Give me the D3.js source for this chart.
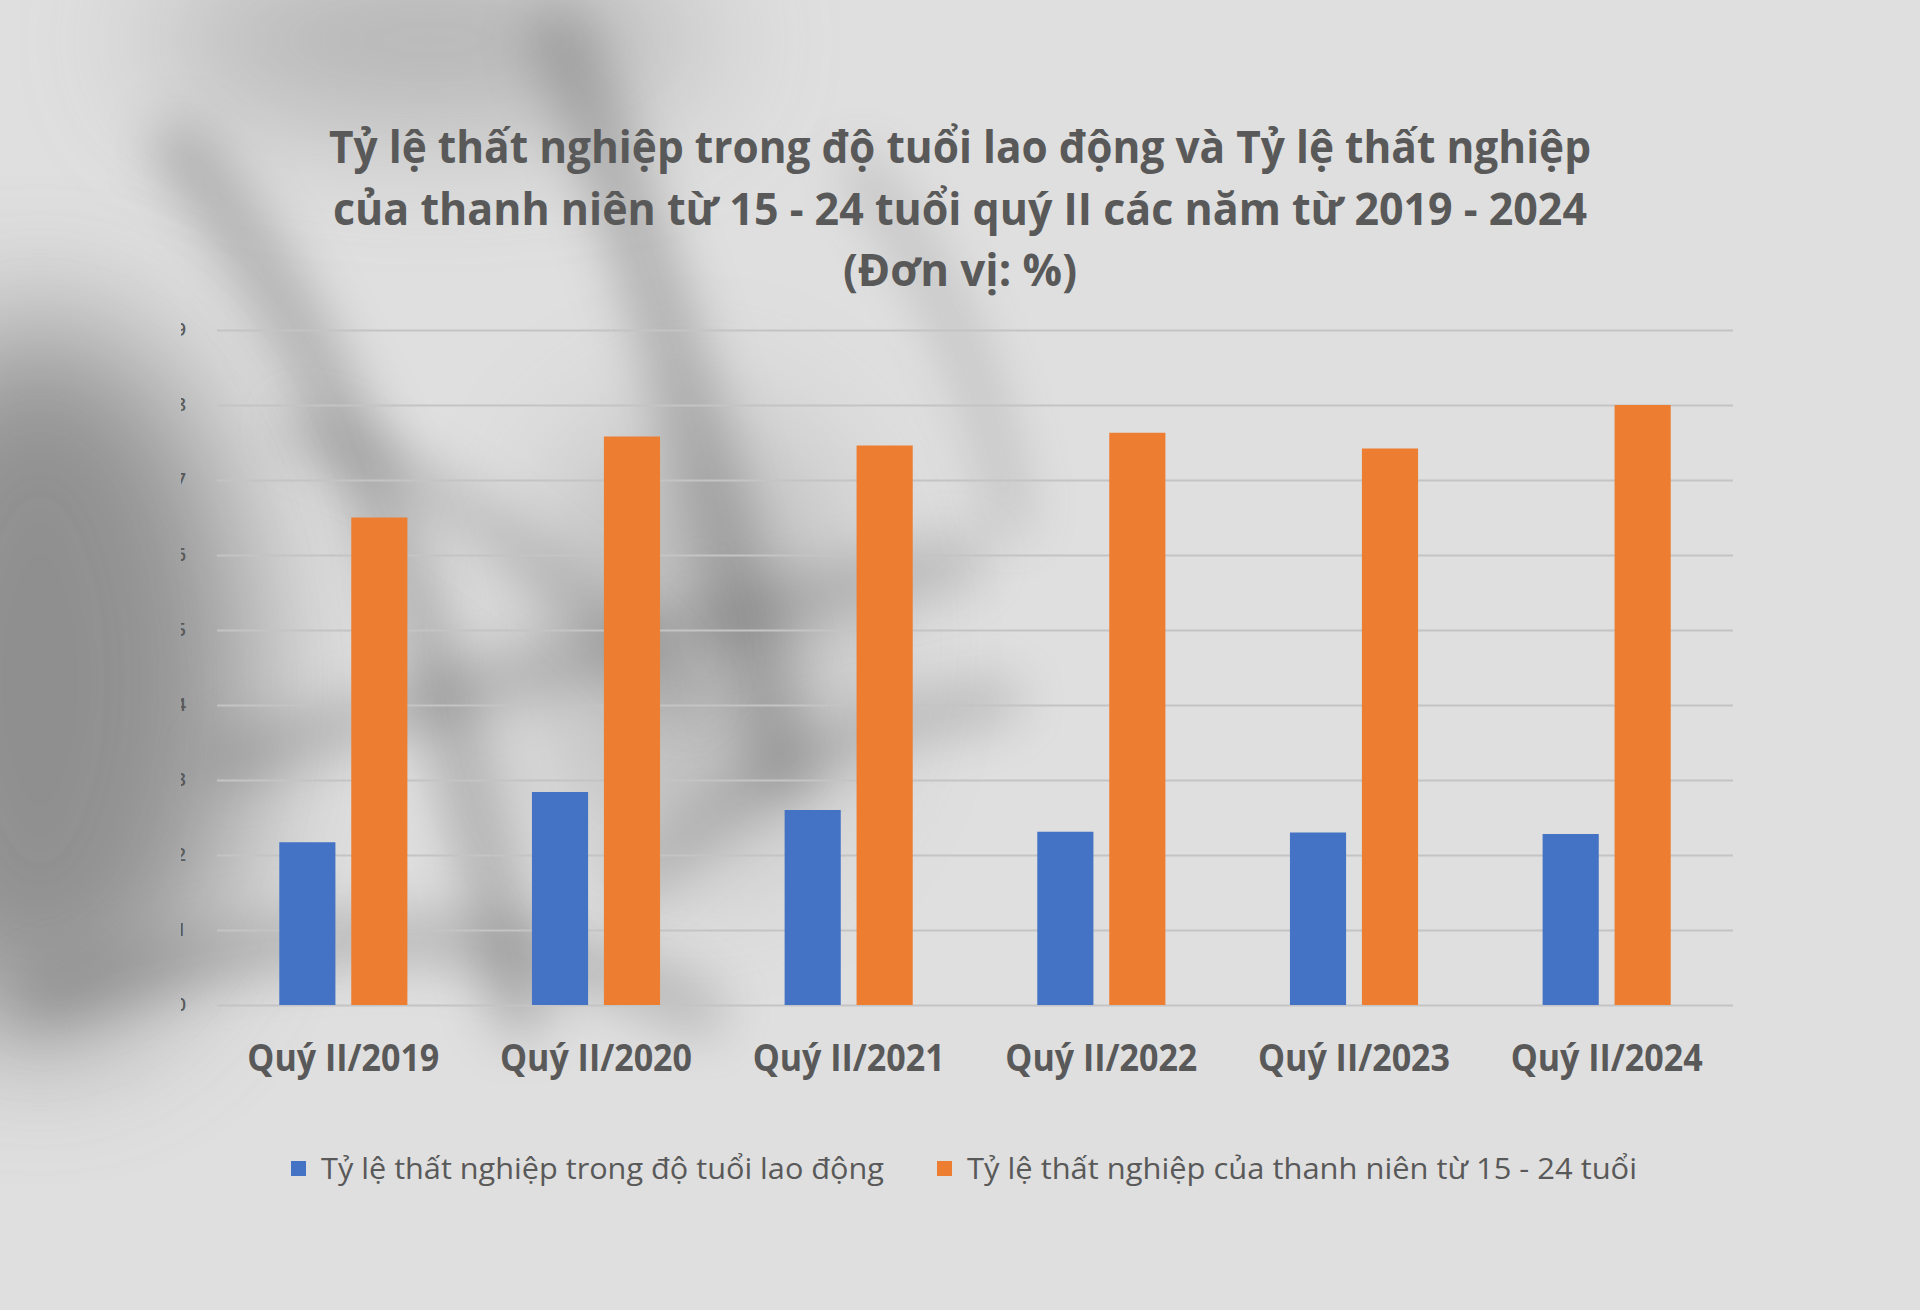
<!DOCTYPE html>
<html>
<head>
<meta charset="utf-8">
<script src="https://cdn.jsdelivr.net/npm/d3@7"></script>
<style>
  html, body { margin: 0; padding: 0; background: #dedede; }
  svg { display: block; }
</style>
</head>
<body>
<div id="chart"></div>
<script>
// chart data
const categories = ["Quý II/2019", "Quý II/2020", "Quý II/2021", "Quý II/2022", "Quý II/2023", "Quý II/2024"];
const seriesNames = ["Tỷ lệ thất nghiệp trong độ tuổi lao động", "Tỷ lệ thất nghiệp của thanh niên từ 15 - 24 tuổi"];
const laborAgeRate = [2.17, 2.84, 2.60, 2.31, 2.30, 2.28];
const youthRate = [6.50, 7.58, 7.46, 7.63, 7.42, 8.00];
const yTicks = [0, 1, 2, 3, 4, 5, 6, 7, 8, 9];
const titleLines = [
    "Tỷ lệ thất nghiệp trong độ tuổi lao động và Tỷ lệ thất nghiệp",
    "của thanh niên từ 15 - 24 tuổi quý II các năm từ 2019 - 2024",
    "(Đơn vị: %)"
];

const W = 1920, H = 1310;
const margin = { top: 330, right: 187, bottom: 305, left: 217 };
const colors = ["#4472c4", "#ed7d31"];
const textColor = "#595959";
const font = "'Open Sans', 'Noto Sans', sans-serif";

const svg = d3.select("#chart").append("svg")
    .attr("width", W)
    .attr("height", H);

// blur filters cover the whole page so the shadows have no hard edges
const defs = svg.append("defs");
[["soft", 26], ["softer", 70]].forEach(([id, sd]) => {
    defs.append("filter").attr("id", id)
        .attr("filterUnits", "userSpaceOnUse")
        .attr("x", 0).attr("y", 0).attr("width", W).attr("height", H)
      .append("feGaussianBlur").attr("stdDeviation", sd);
});
defs.append("clipPath").attr("id", "yclip")
  .append("rect").attr("x", 181).attr("y", 0).attr("width", 40).attr("height", H);

// background with blurred plant shadows
svg.append("rect").attr("width", W).attr("height", H).attr("fill", "#dfdfdf");
const shade = svg.append("g").attr("fill", "none").attr("stroke", "#5a5a5a").attr("stroke-linecap", "round");
shade.append("ellipse").attr("cx", 40).attr("cy", 680).attr("rx", 210).attr("ry", 360)
    .attr("fill", "#6e6e6e").attr("stroke", "none").attr("opacity", 0.7).attr("filter", "url(#softer)");
shade.append("ellipse").attr("cx", 430).attr("cy", 40).attr("rx", 280).attr("ry", 80)
    .attr("fill", "#808080").attr("stroke", "none").attr("opacity", 0.5).attr("filter", "url(#softer)");
shade.append("ellipse").attr("cx", 700).attr("cy", 640).attr("rx", 160).attr("ry", 230)
    .attr("fill", "#8a8a8a").attr("stroke", "none").attr("opacity", 0.4).attr("filter", "url(#softer)");
const shadowPaths = [
    { d: "M180,150 C300,300 420,520 520,1010", w: 55, o: 0.35 },
    { d: "M560,40 C640,220 700,420 780,760", w: 60, o: 0.35 },
    { d: "M230,760 C420,700 640,640 960,560", w: 45, o: 0.3 },
    { d: "M40,1000 C250,930 480,900 700,1010", w: 50, o: 0.3 },
    { d: "M860,170 C930,260 990,380 1010,520", w: 40, o: 0.22 },
    { d: "M640,880 C760,760 880,720 1000,700", w: 40, o: 0.3 },
    { d: "M300,430 C420,470 560,560 680,700", w: 38, o: 0.28 }
];
shadowPaths.forEach(s => {
    shade.append("path").attr("d", s.d)
        .attr("stroke-width", s.w).attr("opacity", s.o).attr("filter", "url(#soft)");
});

// scales
const x0 = d3.scaleBand()
    .domain(categories)
    .range([margin.left, W - margin.right])
    .paddingInner(0.493)
    .paddingOuter(0.2465);

const x1 = d3.scaleBand()
    .domain(seriesNames)
    .range([0, x0.bandwidth()])
    .paddingInner(0.22);

const y = d3.scaleLinear()
    .domain([0, d3.max(yTicks)])
    .range([H - margin.bottom, margin.top]);

// gridlines
svg.append("g")
    .attr("transform", "translate(" + margin.left + ",0)")
    .call(d3.axisLeft(y).tickValues(yTicks).tickSize(-(W - margin.left - margin.right)).tickFormat(""))
    .call(g => g.select(".domain").remove())
    .call(g => g.selectAll(".tick line").attr("stroke", "#c4c4c4").attr("stroke-width", 2));

// y labels, mostly hidden behind the left crop like in the source image
svg.append("g")
    .attr("clip-path", "url(#yclip)")
    .selectAll("text")
    .data(yTicks)
    .join("text")
    .attr("x", 186)
    .attr("y", d => y(d))
    .attr("dy", "0.35em")
    .attr("text-anchor", "end")
    .attr("font-family", font)
    .attr("font-size", 18)
    .attr("font-weight", 600)
    .attr("fill", textColor)
    .text(d => d);

// bars
const rows = categories.map((c, i) => ({ cat: c, values: [laborAgeRate[i], youthRate[i]] }));

svg.append("g")
  .selectAll("g")
  .data(rows)
  .join("g")
    .attr("transform", d => "translate(" + x0(d.cat) + ",0)")
  .selectAll("rect")
  .data(d => d.values.map((v, j) => ({ key: seriesNames[j], value: v, j })))
  .join("rect")
    .attr("x", d => x1(d.key))
    .attr("y", d => y(d.value))
    .attr("width", x1.bandwidth())
    .attr("height", d => y(0) - y(d.value))
    .attr("fill", d => colors[d.j]);

// x axis labels
svg.append("g")
    .attr("transform", "translate(0," + (H - margin.bottom) + ")")
    .call(d3.axisBottom(x0).tickSize(0).tickPadding(0))
    .call(g => g.select(".domain").remove())
    .call(g => g.selectAll(".tick text")
        .attr("y", 66)
        .attr("dy", 0)
        .attr("font-family", font)
        .attr("font-size", 38)
        .attr("font-weight", 700)
        .attr("fill", textColor)
        .attr("textLength", 192)
        .attr("lengthAdjust", "spacingAndGlyphs"));

// title
const titleY = [163, 225, 286];
const titleW = [1262, 1254, 234];
svg.append("g")
  .selectAll("text")
  .data(titleLines)
  .join("text")
    .attr("x", W / 2)
    .attr("y", (d, i) => titleY[i])
    .attr("text-anchor", "middle")
    .attr("font-family", font)
    .attr("font-size", 44)
    .attr("font-weight", 700)
    .attr("fill", textColor)
    .attr("textLength", (d, i) => titleW[i])
    .attr("lengthAdjust", "spacingAndGlyphs")
    .text(d => d);

// legend
const legendX = [291, 937];
const legendW = [563, 670];
const legend = svg.append("g")
  .selectAll("g")
  .data(seriesNames)
  .join("g")
    .attr("transform", (d, i) => "translate(" + legendX[i] + ",1169)");
legend.append("rect")
    .attr("x", 0).attr("y", -8)
    .attr("width", 15).attr("height", 15)
    .attr("fill", (d, i) => colors[i]);
legend.append("text")
    .attr("x", 30)
    .attr("y", 10)
    .attr("font-family", font)
    .attr("font-size", 30)
    .attr("fill", textColor)
    .attr("textLength", (d, i) => legendW[i])
    .attr("lengthAdjust", "spacingAndGlyphs")
    .text(d => d);
</script>
</body>
</html>
